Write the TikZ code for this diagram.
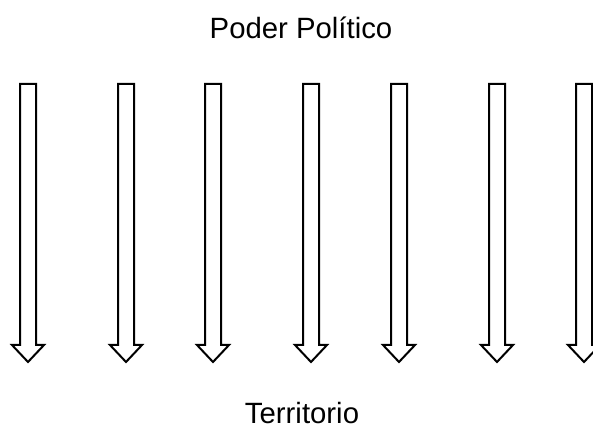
\documentclass[tikz,border=0pt]{standalone}
\usepackage{fontspec}
\setmainfont{Liberation Sans}
\usetikzlibrary{positioning}
\tikzset{
  blockarrow/.style={draw=black, line width=1.5pt, line join=miter, fill=white},
  lab/.style={text=black, font=\fontsize{22}{26}\selectfont, inner sep=0pt, anchor=base}
}

\begin{document}
\begin{tikzpicture}[x=0.75pt, y=0.75pt]
  \useasboundingbox (0,0) rectangle (593,432);
  \clip (0,0) rectangle (593,432);
  \def\top{348}
  \def\neck{87}
  \def\tip{70}
  \node[lab] (poder) at (301,393) {Poder Político};
  \node[lab] (terr) at (302,8) {Territorio};
  % block arrows from power down to territory
  \foreach \x in {28,126,213,311,399,497,584}{
    \draw[blockarrow] (\x-8,\top) -- (\x+8,\top) -- (\x+8,\neck) -- (\x+16,\neck)
      -- (\x,\tip) -- (\x-16,\neck) -- (\x-8,\neck) -- cycle;
  }
\end{tikzpicture}
\end{document}
